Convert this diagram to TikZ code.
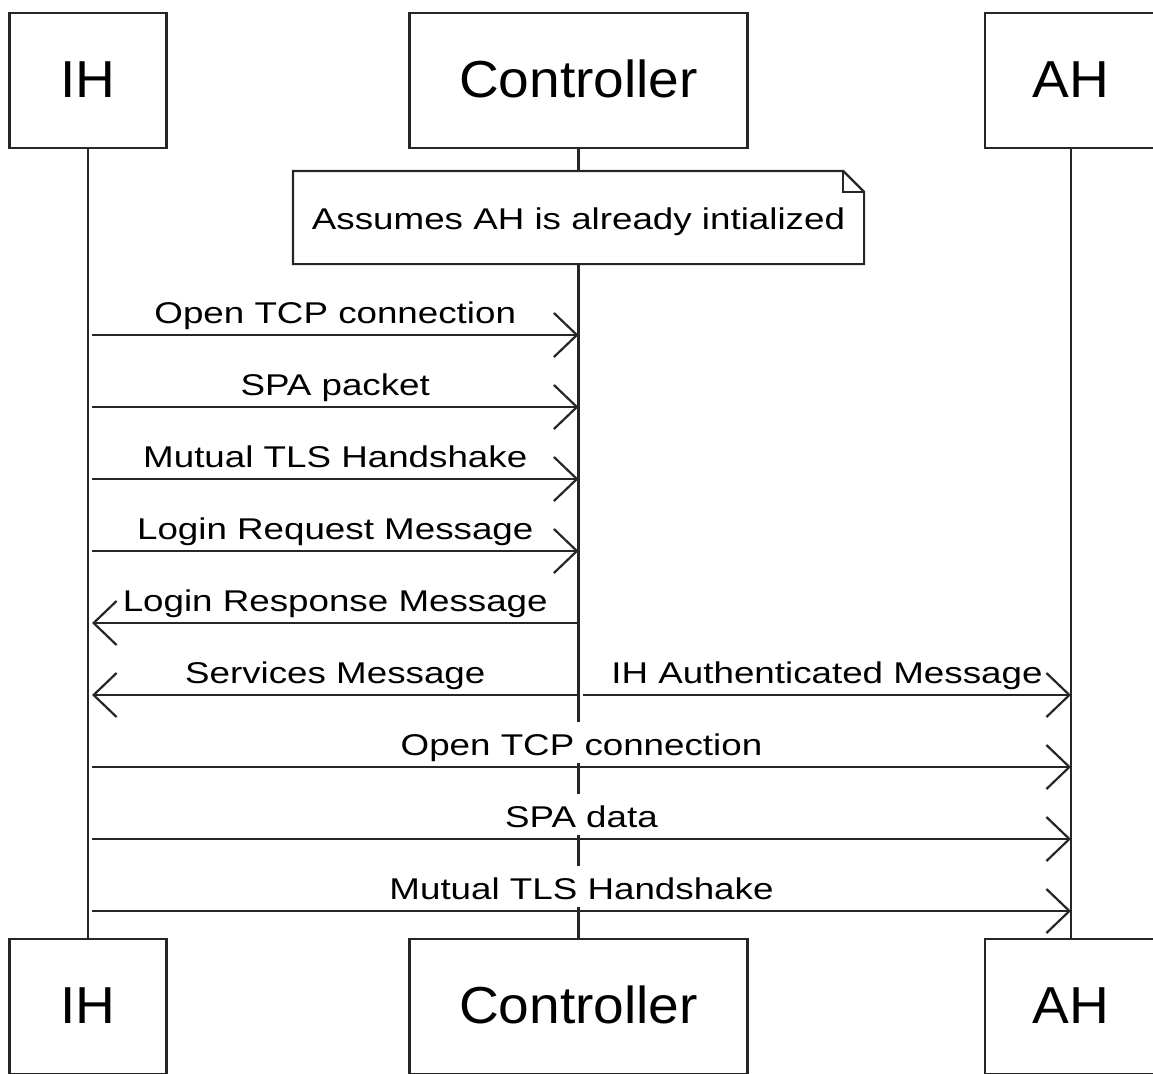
\documentclass[tikz,border=0pt]{standalone}
\usepackage{fontspec}
\setmainfont{Liberation Sans}
\newfontfamily\msgfont[FakeStretch=1.225]{Liberation Sans}
\newfontfamily\boxfont[FakeStretch=1.06]{Liberation Sans}
\usetikzlibrary{arrows.meta}
\colorlet{linecol}{black!85}
\begin{document}
\begin{tikzpicture}[x=1pt,y=-1pt,line width=2.2pt,
  actor/.style={draw=linecol, fill=white, minimum width=#1, minimum height=135pt,
    inner sep=0pt, text height=38pt, text depth=4pt,
    font=\boxfont\fontsize{52}{60}\selectfont},
  lifeline/.style={draw=linecol, line width=2.2pt},
  notebox/.style={minimum width=569pt, minimum height=91pt, inner sep=0pt},
  notetext/.style={anchor=base, inner sep=0pt, font=\msgfont\fontsize{30}{36}\selectfont},
  msg/.style={draw=linecol, -{Straight Barb[length=23pt,width=44pt]}},
  lbl/.style={midway, above=3pt, fill=white, inner sep=0pt, text height=34pt,
    text depth=7pt, font=\msgfont\fontsize{30}{36}\selectfont}]
\useasboundingbox (0,0) rectangle (1153,1073);
\clip (0,0) rectangle (1153,1073);
% actors
\node[actor=157pt] (ihT) at (88,80.5) {IH};
\node[actor=338pt] (cT) at (578.5,80.5) {Controller};
\node[actor=172pt] (ahT) at (1071,80.5) {AH};
\node[actor=157pt] (ihB) at (88,1006.5) {IH};
\node[actor=338pt] (cB) at (578.5,1006.5) {Controller};
\node[actor=172pt] (ahB) at (1071,1006.5) {AH};
% lifelines
\draw[lifeline] (ihT) -- (ihB);
\draw[lifeline] (cT) -- (cB);
\draw[lifeline] (ahT) -- (ahB);
% note
\node[notebox] (note) at (578.5,217.5) {};
\draw[linecol, fill=white] (note.north west) -- ([xshift=-21pt]note.north east)
  -- ([yshift=-21pt]note.north east) -- (note.south east) -- (note.south west) -- cycle;
\draw[linecol] ([xshift=-21pt]note.north east) -- ([xshift=-21pt,yshift=-21pt]note.north east)
  -- ([yshift=-21pt]note.north east);
\node[notetext] (notelbl) at (578.5,229) {Assumes AH is already intialized};
% message end points
\coordinate (a1) at (92,335);  \coordinate (b1) at (578.5,335);
\coordinate (a2) at (92,407);  \coordinate (b2) at (578.5,407);
\coordinate (a3) at (92,479);  \coordinate (b3) at (578.5,479);
\coordinate (a4) at (92,551);  \coordinate (b4) at (578.5,551);
\coordinate (a5) at (92,623);  \coordinate (b5) at (578.5,623);
\coordinate (a6) at (92,695);  \coordinate (b6) at (578.5,695);
\coordinate (c6) at (583,695); \coordinate (d6) at (1071,695);
\coordinate (a7) at (92,767);  \coordinate (d7) at (1071,767);
\coordinate (a8) at (92,839);  \coordinate (d8) at (1071,839);
\coordinate (a9) at (92,911);  \coordinate (d9) at (1071,911);
% messages
\draw[msg] (a1) -- node[lbl] {Open TCP connection} (b1);
\draw[msg] (a2) -- node[lbl] {SPA packet} (b2);
\draw[msg] (a3) -- node[lbl] {Mutual TLS Handshake} (b3);
\draw[msg] (a4) -- node[lbl] {Login Request Message} (b4);
\draw[msg] (b5) -- node[lbl] {Login Response Message} (a5);
\draw[msg] (b6) -- node[lbl] {Services Message} (a6);
\draw[msg] (c6) -- node[lbl] {IH Authenticated Message} (d6);
\draw[msg] (a7) -- node[lbl] {Open TCP connection} (d7);
\draw[msg] (a8) -- node[lbl] {SPA data} (d8);
\draw[msg] (a9) -- node[lbl] {Mutual TLS Handshake} (d9);
\end{tikzpicture}
\end{document}
